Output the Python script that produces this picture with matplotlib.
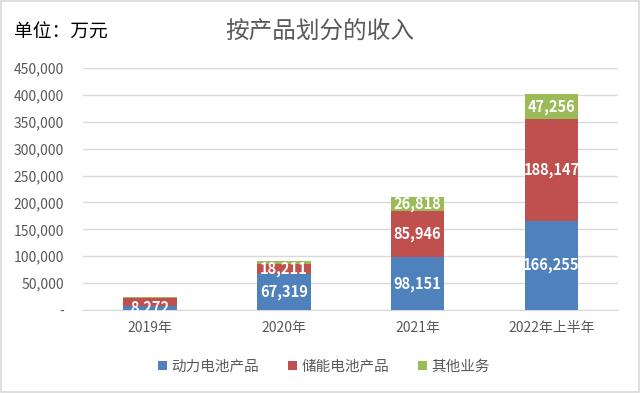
import numpy as np
import matplotlib
matplotlib.use("Agg")
import matplotlib.pyplot as plt
from matplotlib.patches import Rectangle
from matplotlib.ticker import FuncFormatter

plt.rcParams["font.family"] = ["Noto Sans CJK SC", "DejaVu Sans"]

years = ["2019年", "2020年", "2021年", "2022年上半年"]
series_names = ["动力电池产品", "储能电池产品", "其他业务"]
power = [8272, 67319, 98151, 166255]
storage = [14500, 18211, 85946, 188147]
other = [1200, 5000, 26818, 47256]
# which labels are shown in the source picture
show_power = [True, True, True, True]
show_storage = [False, True, True, True]
show_other = [False, False, True, True]

colors = ["#4F81BD", "#C0504D", "#9BBB59"]

fig = plt.figure(figsize=(6.4, 3.93), dpi=100)
fig.patches.append(Rectangle((0.002, 0.003), 0.996, 0.994, transform=fig.transFigure,
                             fill=False, edgecolor="#D9D9D9", linewidth=1.2))
ax = fig.add_axes([0.13, 0.211, 0.836, 0.616])

x = np.arange(len(years))
w = 0.4
bottom = np.zeros(len(years))
for vals, col, name, shows in zip([power, storage, other], colors, series_names,
                                   [show_power, show_storage, show_other]):
    vals = np.array(vals, dtype=float)
    ax.bar(x, vals, w, bottom=bottom, color=col, label=name, zorder=3)
    for i, (v, s) in enumerate(zip(vals, shows)):
        if s:
            ax.text(x[i], bottom[i] + v / 2, f"{int(v):,}", ha="center", va="center",
                    color="white", fontsize=10.5, fontweight="bold", zorder=4)
    bottom += vals

ax.set_xlim(-0.5, 3.5)
ax.set_ylim(0, 450000)
ax.set_yticks(np.arange(0, 450001, 50000))
ax.yaxis.set_major_formatter(FuncFormatter(lambda v, p: "-" if v == 0 else f"{int(v):,}"))
ax.set_xticks(x)
ax.set_xticklabels(years)
ax.grid(axis="y", color="#D9D9D9", linewidth=1, zorder=0)
for s in ["top", "right", "left"]:
    ax.spines[s].set_visible(False)
ax.spines["bottom"].set_color("#D9D9D9")
ax.tick_params(axis="y", length=0, labelsize=10, labelcolor="#595959", pad=14)
ax.tick_params(axis="x", length=0, labelsize=10, labelcolor="#595959", pad=8)

fig.text(0.022, 0.918, "单位：万元", fontsize=13.5, color="black", va="center")
fig.text(0.5, 0.918, "按产品划分的收入", fontsize=17, color="#595959", va="center", ha="center")

ax.legend(loc="upper center", bbox_to_anchor=(0.45, -0.15), ncol=3, frameon=False,
          fontsize=10.5, labelcolor="#595959", handlelength=0.6, handleheight=0.6,
          handletextpad=0.3, columnspacing=2.0)

fig.savefig("out.png", dpi=100, facecolor="white")
